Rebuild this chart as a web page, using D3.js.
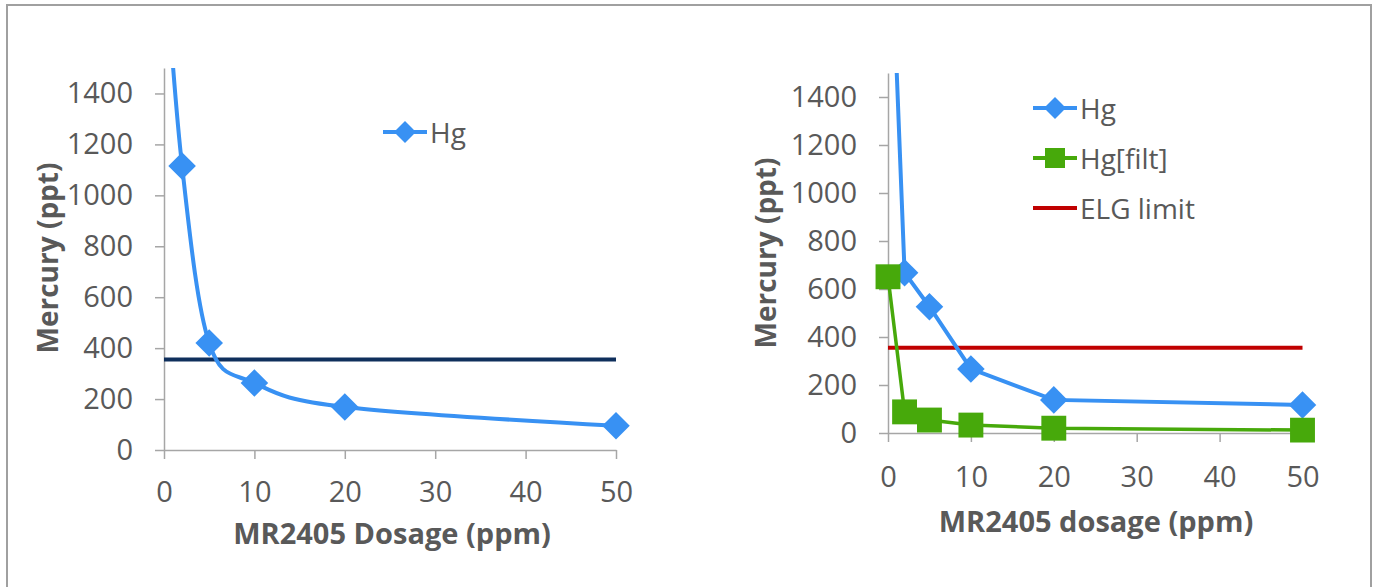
<!DOCTYPE html>
<html>
<head>
<meta charset="utf-8">
<script src="https://cdn.jsdelivr.net/npm/d3@7"></script>
<style>
  body { margin: 0; background: #fff; }
  text { font-family: 'Open Sans', sans-serif; fill: #595959; }
</style>
</head>
<body>
<div id="chart"></div>
<script>
const dosage = [0, 2, 5, 10, 20, 50]
const hgLeft = [2000, 1115, 420, 263, 169, 95]
const hgRight = [2430, 668, 526, 267, 138, 117]
const hgFilt = [651, 88, 54, 33, 20, 12]
const elgLimit = 355
const xTicks = [0, 10, 20, 30, 40, 50]
const yTicks = [0, 200, 400, 600, 800, 1000, 1200, 1400]

const W = 1373
const H = 587
const colors = { hg: '#3891f3', filt: '#47a90b', limitLeft: '#0f2f5c', limitRight: '#c00000', axis: '#a6a6a6' }

const svg = d3.select('#chart').append('svg').attr('width', W).attr('height', H)

// outer frame
svg.append('path')
  .attr('d', `M7,${H} V5 H1371 V${H}`)
  .attr('fill', 'none')
  .attr('stroke', '#a0a0a0')
  .attr('stroke-width', 2)

const drawChart = cfg => {
  const x = d3.scaleLinear().domain([0, 50]).range([cfg.left, cfg.right])
  const y = d3.scaleLinear().domain([0, 1500]).range([cfg.bottom, cfg.top])
  const g = svg.append('g')

  const clipId = `clip-${cfg.id}`
  g.append('clipPath').attr('id', clipId)
    .append('rect')
    .attr('x', cfg.left - 20).attr('y', cfg.top)
    .attr('width', cfg.right - cfg.left + 40).attr('height', cfg.bottom - cfg.top + 20)

  const yAxis = g.append('g')
    .attr('transform', `translate(${cfg.left},0)`)
    .call(d3.axisLeft(y).tickValues(yTicks).tickFormat(d3.format('d')).tickSize(9).tickPadding(22).tickSizeOuter(0))
  const xAxis = g.append('g')
    .attr('transform', `translate(0,${cfg.bottom})`)
    .call(d3.axisBottom(x).tickValues(xTicks).tickFormat(d3.format('d')).tickSize(9).tickPadding(cfg.xPad).tickSizeOuter(0))

  ;[xAxis, yAxis].forEach(a => {
    a.selectAll('.domain, line').attr('stroke', colors.axis).attr('stroke-width', 1.5)
    a.selectAll('text').style('font-size', '29px').attr('fill', '#595959')
  })

  g.append('text')
    .attr('x', cfg.xTitle[0]).attr('y', cfg.xTitle[1])
    .attr('text-anchor', 'middle').attr('dominant-baseline', 'central')
    .style('font-size', '29px').style('font-weight', 'bold')
    .text(cfg.xLabel)

  g.append('text')
    .attr('transform', `translate(${cfg.yTitle[0]},${cfg.yTitle[1]}) rotate(-90)`)
    .attr('text-anchor', 'middle').attr('dominant-baseline', 'central')
    .style('font-size', '28px').style('font-weight', 'bold')
    .text('Mercury (ppt)')

  const plot = g.append('g').attr('clip-path', `url(#${clipId})`)

  plot.append('line')
    .attr('x1', x(0)).attr('x2', x(50))
    .attr('y1', y(elgLimit)).attr('y2', y(elgLimit))
    .attr('stroke', cfg.limitColor).attr('stroke-width', 4)

  cfg.series.forEach(s => {
    const pts = dosage.map((d, i) => [d, s.values[i]])
    const line = d3.line().x(d => x(d[0])).y(d => y(d[1])).curve(cfg.curve)
    plot.append('path')
      .datum(pts)
      .attr('d', line)
      .attr('fill', 'none')
      .attr('stroke', s.color)
      .attr('stroke-width', s.width)
  })

  cfg.series.forEach(s => {
    const pts = dosage.map((d, i) => [d, s.values[i]]).filter(d => d[1] <= 1500)
    plot.selectAll(null)
      .data(pts)
      .join('path')
      .attr('d', d3.symbol(d3.symbolSquare, s.size))
      .attr('transform', d => `translate(${x(d[0])},${y(d[1])}) rotate(${s.shape === 'diamond' ? 45 : 0})`)
      .attr('fill', s.color)
  })

  const legend = g.append('g')
  cfg.legend.forEach((l, i) => {
    const ly = cfg.legendPos[1] + i * 50
    const lx = cfg.legendPos[0]
    legend.append('line')
      .attr('x1', lx).attr('x2', lx + 44)
      .attr('y1', ly).attr('y2', ly)
      .attr('stroke', l.color).attr('stroke-width', 4)
    if (l.shape) {
      legend.append('path')
        .attr('d', d3.symbol(d3.symbolSquare, l.shape === 'diamond' ? 240 : 400))
        .attr('transform', `translate(${lx + 22},${ly}) rotate(${l.shape === 'diamond' ? 45 : 0})`)
        .attr('fill', l.color)
    }
    legend.append('text')
      .attr('x', lx + 47).attr('y', ly)
      .attr('dominant-baseline', 'central')
      .style('font-size', '28px')
      .text(l.label)
  })
}

drawChart({
  id: 'left',
  left: 164, right: 616, top: 68, bottom: 450,
  xPad: 22,
  xLabel: 'MR2405 Dosage (ppm)',
  xTitle: [392, 532], yTitle: [47, 258],
  limitColor: colors.limitLeft,
  curve: d3.curveCardinal,
  series: [{ values: hgLeft, color: colors.hg, width: 4, shape: 'diamond', size: 380 }],
  legend: [{ label: 'Hg', color: colors.hg, shape: 'diamond' }],
  legendPos: [383, 132]
})

drawChart({
  id: 'right',
  left: 888, right: 1302.5, top: 73, bottom: 433,
  xPad: 24,
  xLabel: 'MR2405 dosage (ppm)',
  xTitle: [1096, 520], yTitle: [765, 253],
  limitColor: colors.limitRight,
  curve: d3.curveLinear,
  series: [
    { values: hgRight, color: colors.hg, width: 4, shape: 'diamond', size: 380 },
    { values: hgFilt, color: colors.filt, width: 3.5, shape: 'square', size: 620 }
  ],
  legend: [
    { label: 'Hg', color: colors.hg, shape: 'diamond' },
    { label: 'Hg[filt]', color: colors.filt, shape: 'square' },
    { label: 'ELG limit', color: colors.limitRight }
  ],
  legendPos: [1033, 108]
})
</script>
</body>
</html>
